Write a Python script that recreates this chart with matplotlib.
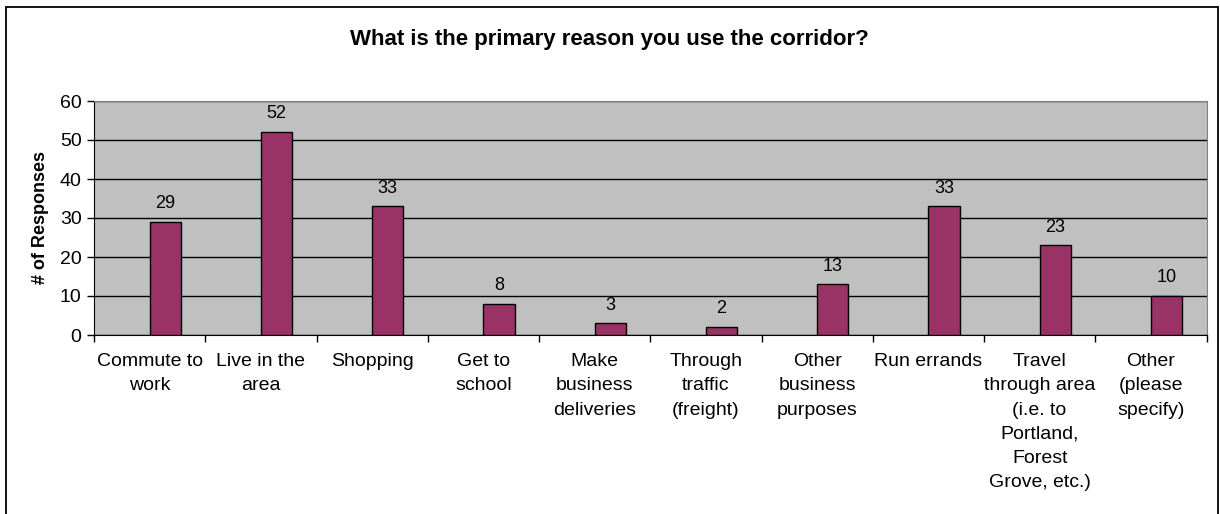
import matplotlib
matplotlib.use("Agg")
import matplotlib.pyplot as plt
from matplotlib.patches import Rectangle
import numpy as np

plt.rcParams['font.family'] = ['Liberation Sans', 'DejaVu Sans']

categories = ["Commute to\nwork", "Live in the\narea", "Shopping", "Get to\nschool",
              "Make\nbusiness\ndeliveries", "Through\ntraffic\n(freight)", "Other\nbusiness\npurposes",
              "Run errands", "Travel\nthrough area\n(i.e. to\nPortland,\nForest\nGrove, etc.)",
              "Other\n(please\nspecify)"]
responses = [29, 52, 33, 8, 3, 2, 13, 33, 23, 10]

fig = plt.figure(figsize=(12.2, 5.14), dpi=100)
ax = fig.add_axes([94 / 1220, 1 - 335 / 514, (1206.5 - 94) / 1220, (335 - 101) / 514])
ax.set_facecolor('#c0c0c0')

x = np.arange(len(categories))
ax.bar(x, responses, width=0.28, align='edge', color='#993366', edgecolor='black', linewidth=1, zorder=3)

for i, v in enumerate(responses):
    ax.annotate(str(v), (i + 0.14, v), xytext=(0, 7), textcoords='offset points',
                ha='center', va='bottom', fontsize=13)

ax.set_xlim(-0.5, len(categories) - 0.5)
ax.set_ylim(0, 60)
ax.set_yticks(np.arange(0, 61, 10))
ax.yaxis.grid(True, color='black', linewidth=1, zorder=1)
ax.tick_params(axis='y', labelsize=14, length=5, width=1, pad=4, direction='out')

ax.set_xticks(np.arange(-0.5, len(categories), 1))
ax.set_xticklabels([])
ax.set_xticks(x, minor=True)
ax.set_xticklabels(categories, minor=True, fontsize=14, linespacing=1.56, va='top')
ax.tick_params(axis='x', which='major', length=5, width=1, direction='out')
ax.tick_params(axis='x', which='minor', length=0, pad=13)

for s in ['top', 'right']:
    ax.spines[s].set_color('#808080')
for s in ['left', 'bottom']:
    ax.spines[s].set_color('black')

ax.set_ylabel("# of Responses", fontsize=13, fontweight='bold', labelpad=8)

fig.text(609 / 1220, 1 - 39 / 514, "What is the primary reason you use the corridor?",
         ha='center', va='center', fontsize=16, fontweight='bold')

fig.patches.append(Rectangle((6 / 1220, -0.01), (1218 - 6) / 1220, 1.01 - 7 / 514,
                             transform=fig.transFigure, fill=False, edgecolor='black', linewidth=1.3))

fig.savefig("out.png", dpi=100)
